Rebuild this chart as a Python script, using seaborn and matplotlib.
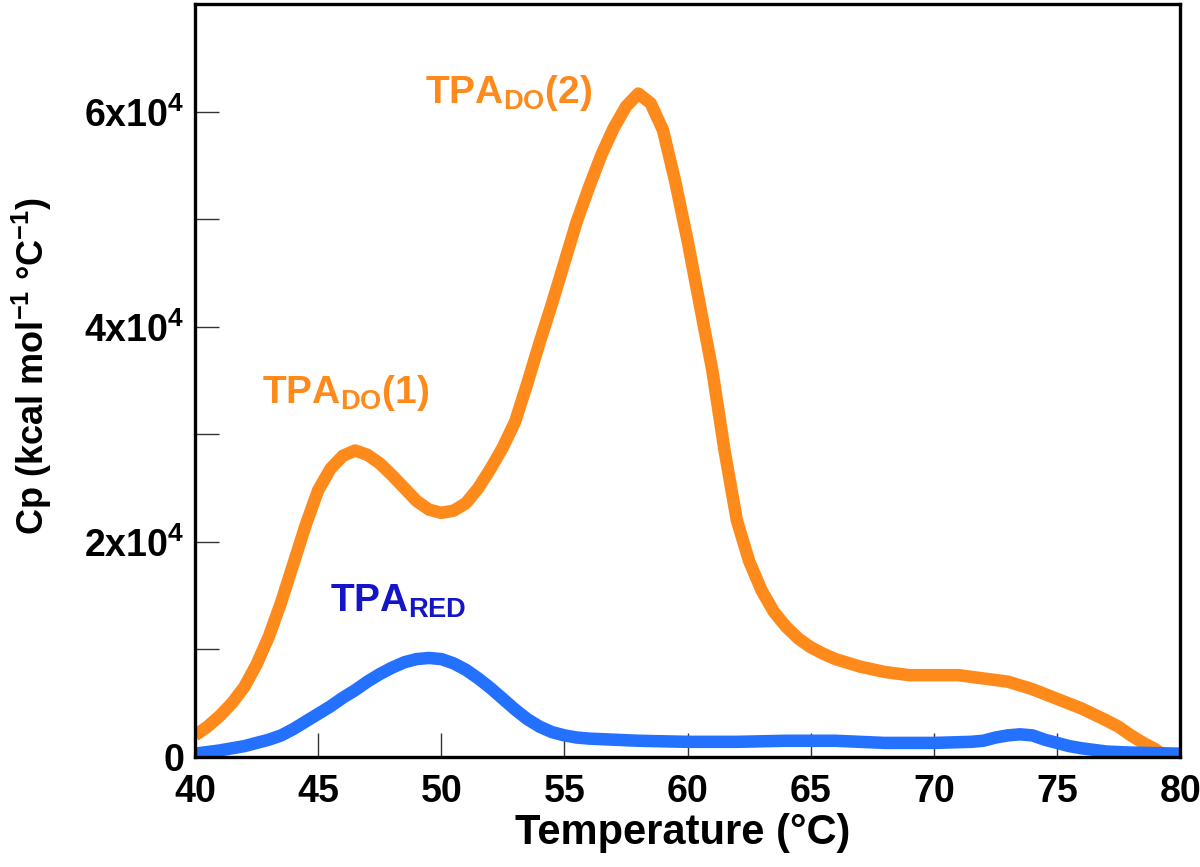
import pandas as pd
import seaborn as sns
import matplotlib.pyplot as plt
from matplotlib.ticker import FixedLocator, FixedFormatter

# DSC traces (Cp in units of 1e4 kcal mol-1 C-1)
temp_do = [40, 40.5, 41, 41.5, 42, 42.5, 43, 43.5, 44, 44.5, 45, 45.5, 46, 46.5, 47, 47.5,
           48, 48.5, 49, 49.5, 50, 50.5, 51, 51.5, 52, 52.5, 53, 53.5, 54, 54.5, 55, 55.5,
           56, 56.5, 57, 57.5, 58, 58.5, 59, 59.5, 60, 60.5, 61, 61.5, 62, 62.5, 63, 63.5,
           64, 64.5, 65, 65.5, 66, 67, 68, 69, 70, 71, 72, 73, 74, 75, 76, 77, 77.5, 78,
           78.5, 79, 79.4]
cp_do = [0.20, 0.28, 0.38, 0.50, 0.65, 0.86, 1.12, 1.44, 1.80, 2.16, 2.48, 2.68, 2.80, 2.85,
         2.81, 2.73, 2.62, 2.50, 2.38, 2.30, 2.27, 2.29, 2.36, 2.50, 2.68, 2.88, 3.12, 3.48,
         3.86, 4.22, 4.60, 4.98, 5.30, 5.60, 5.85, 6.05, 6.17, 6.08, 5.83, 5.35, 4.80, 4.20,
         3.60, 2.85, 2.20, 1.82, 1.55, 1.35, 1.21, 1.10, 1.02, 0.96, 0.91, 0.84, 0.79, 0.76,
         0.76, 0.76, 0.73, 0.70, 0.63, 0.54, 0.45, 0.34, 0.28, 0.20, 0.13, 0.07, 0.00]

temp_red = [40, 41, 42, 43, 43.5, 44, 44.5, 45, 45.5, 46, 46.5, 47, 47.5, 48, 48.5, 49, 49.5,
            50, 50.5, 51, 51.5, 52, 52.5, 53, 53.5, 54, 54.5, 55, 55.5, 56, 57, 58, 60, 62,
            64, 66, 68, 70, 71.5, 72, 72.5, 73, 73.5, 74, 74.5, 75, 75.5, 76, 77, 78, 80]
cp_red = [0.03, 0.06, 0.10, 0.16, 0.20, 0.26, 0.33, 0.40, 0.47, 0.55, 0.62, 0.70, 0.77, 0.83,
          0.88, 0.91, 0.92, 0.91, 0.87, 0.81, 0.73, 0.64, 0.54, 0.44, 0.35, 0.28, 0.23, 0.20,
          0.18, 0.17, 0.16, 0.15, 0.14, 0.14, 0.15, 0.15, 0.13, 0.13, 0.14, 0.15, 0.18, 0.20,
          0.21, 0.20, 0.16, 0.13, 0.10, 0.08, 0.05, 0.04, 0.03]

xticks = [40, 45, 50, 55, 60, 65, 70, 75, 80]
yticks_major = [0, 2e4, 4e4, 6e4]
yticks_minor = [1e4, 3e4, 5e4]
ytick_labels = ["0", r"2x10$^{\mathbf{4}}$", r"4x10$^{\mathbf{4}}$", r"6x10$^{\mathbf{4}}$"]

orange = "#FF8A1C"
blue_line = "#2470FF"
blue_text = "#1414C8"

df = pd.concat([
    pd.DataFrame({"T": temp_do, "Cp": [v * 1e4 for v in cp_do], "s": "DO"}),
    pd.DataFrame({"T": temp_red, "Cp": [v * 1e4 for v in cp_red], "s": "RED"}),
])

sns.set_style("ticks")
plt.rcParams["font.family"] = ["Liberation Sans", "DejaVu Sans"]
plt.rcParams["mathtext.fontset"] = "custom"
plt.rcParams["mathtext.rm"] = "Liberation Sans:bold"
plt.rcParams["mathtext.bf"] = "Liberation Sans:bold"
plt.rcParams["mathtext.it"] = "Liberation Sans:bold"
plt.rcParams["text.color"] = "black"
plt.rcParams["axes.labelcolor"] = "black"
plt.rcParams["xtick.labelcolor"] = "black"
plt.rcParams["ytick.labelcolor"] = "black"

fig = plt.figure(figsize=(12, 8.67), dpi=100)
ax = fig.add_axes([0.1625, 0.127, 0.821, 0.868])

sns.lineplot(data=df, x="T", y="Cp", hue="s", palette={"DO": orange, "RED": blue_line},
             estimator=None, sort=False, linewidth=9, legend=False, ax=ax)
for ln in ax.lines:
    ln.set_solid_capstyle("butt")
    ln.set_solid_joinstyle("round")

ax.set_xlim(40, 80)
ax.set_ylim(0, 7e4)
ax.xaxis.set_major_locator(FixedLocator(xticks))
ax.yaxis.set_major_locator(FixedLocator(yticks_major))
ax.yaxis.set_major_formatter(FixedFormatter(ytick_labels))
ax.yaxis.set_minor_locator(FixedLocator(yticks_minor))
ax.tick_params(axis="both", which="both", direction="in", length=17, width=1,
               color="#333333", top=False, right=False)
ax.tick_params(axis="x", labelsize=27, pad=12)
ax.tick_params(axis="y", labelsize=27, pad=8)
for lab in ax.get_xticklabels() + ax.get_yticklabels():
    lab.set_fontweight("bold")

for sp in ax.spines.values():
    sp.set_visible(True)
    sp.set_linewidth(2.4)
    sp.set_color("black")

ax.set_xlabel("Temperature (°C)", fontsize=30, fontweight="bold")
ax.xaxis.set_label_coords(0.495, -0.075)
ax.set_ylabel(r"Cp (kcal mol$^{-1}$ °C$^{-1}$)", fontsize=26, fontweight="bold")
ax.yaxis.set_label_coords(-0.143, 0.52)

ax.text(42.7, 3.29e4, r"TPA$_{\rm DO}$(1)", color=orange, fontsize=28, fontweight="bold",
        ha="left", va="baseline")
ax.text(49.35, 6.08e4, r"TPA$_{\rm DO}$(2)", color=orange, fontsize=28, fontweight="bold",
        ha="left", va="baseline")
ax.text(45.5, 1.35e4, r"TPA$_{\rm RED}$", color=blue_text, fontsize=28, fontweight="bold",
        ha="left", va="baseline")

fig.savefig("out.png", dpi=100)
